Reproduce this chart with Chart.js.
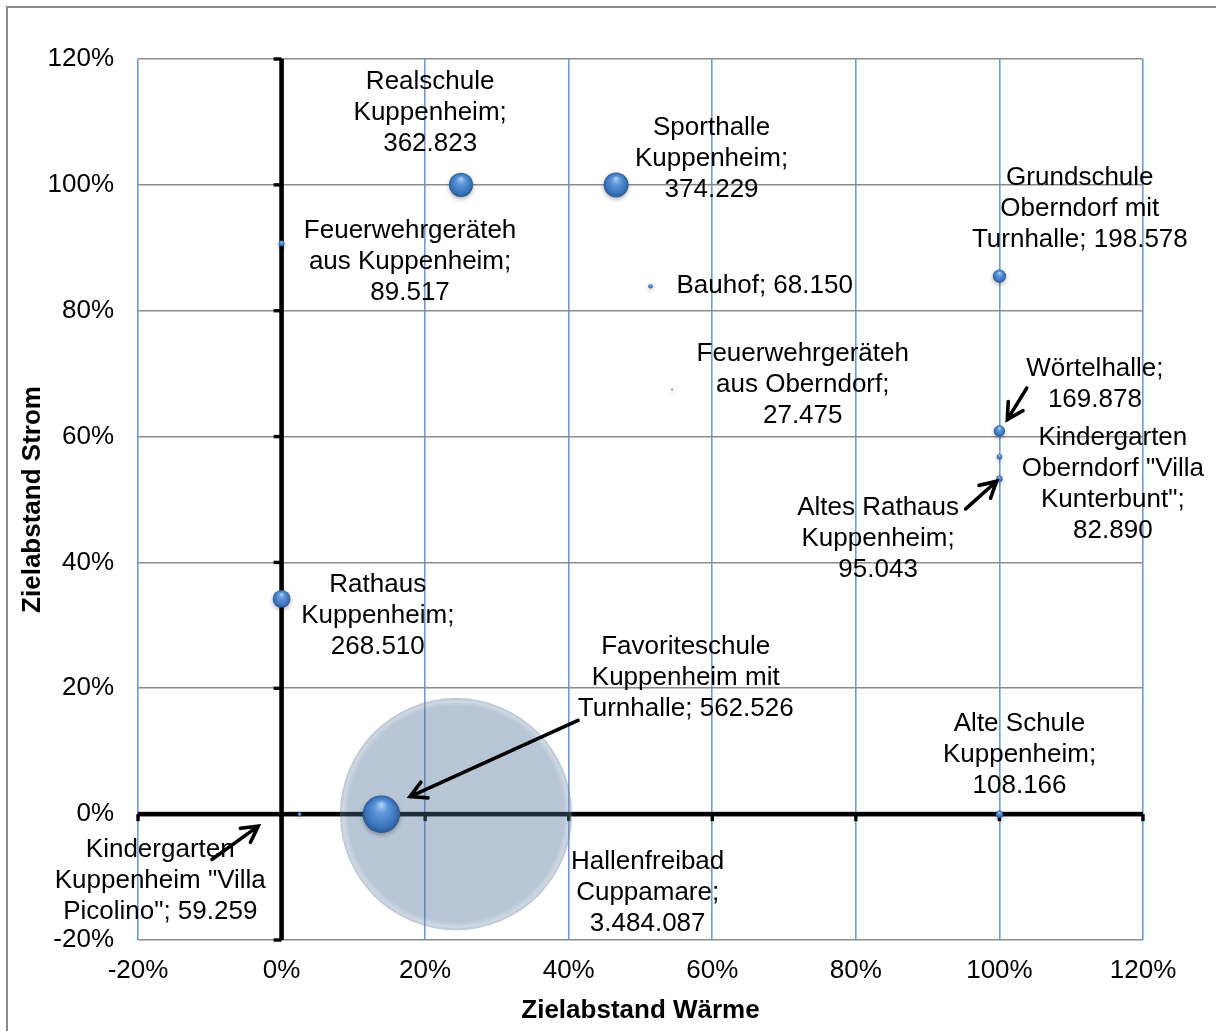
<!DOCTYPE html>
<html>
<head>
<meta charset="utf-8">
<script src="https://cdn.jsdelivr.net/npm/chart.js@4.4.1/dist/chart.umd.min.js"></script>
<style>
  html, body { margin: 0; padding: 0; background: #fff; }
  #wrap { width: 1216px; height: 1031px; }
</style>
</head>
<body>
<div id="wrap"><canvas id="bubbleChart" width="1216" height="1031"></canvas></div>
<script>
// Gebäude (Zeilenumbrüche wie im Original-Diagramm)
const namen = [
	"Realschule\nKuppenheim",
	"Sporthalle\nKuppenheim",
	"Feuerwehrgeräteh\naus Kuppenheim",
	"Bauhof",
	"Grundschule\nOberndorf mit\nTurnhalle",
	"Feuerwehrgeräteh\naus Oberndorf",
	"Wörtelhalle",
	"Kindergarten\nOberndorf \"Villa\nKunterbunt\"",
	"Altes Rathaus\nKuppenheim",
	"Rathaus\nKuppenheim",
	"Favoriteschule\nKuppenheim mit\nTurnhalle",
	"Hallenfreibad\nCuppamare",
	"Alte Schule\nKuppenheim",
	"Kindergarten\nKuppenheim \"Villa\nPicolino\"",
];
// zwischen Name und Wert: neue Zeile oder Leerzeichen
const trenner = ["\n", "\n", "\n", " ", " ", "\n", "\n", "\n", "\n", "\n", " ", "\n", "\n", " "];

// Zielabstand Wärme (x), Zielabstand Strom (y), Verbrauch (Blasengröße)
const waermeAbstand = [0.25, 0.466, 0.0, 0.514, 1.0, 0.544, 1.0, 1.0, 1.0, 0.0, 0.139, 0.243, 1.0, 0.025];
const stromAbstand = [1.0, 1.0, 0.907, 0.839, 0.855, 0.675, 0.609, 0.568, 0.533, 0.342, 0.0, 0.0, 0.0, 0.0];
const verbrauch = [362823, 374229, 89517, 68150, 198578, 27475, 169878, 82890, 95043, 268510, 562526, 3484087, 108166, 59259];

// Achsen
const achsenWerte = [-0.2, 0, 0.2, 0.4, 0.6, 0.8, 1.0, 1.2];
const achsenLabels = ["-20%", "0%", "20%", "40%", "60%", "80%", "100%", "120%"];

// Position der Beschriftungen (Mitte des Textblocks, in Achseneinheiten)
const labelPos = [
	[0.207, 1.114], [0.599, 1.041], [0.179, 0.877], [0.673, 0.839], [1.112, 0.962],
	[0.726, 0.682], [1.133, 0.683], [1.158, 0.524], [0.831, 0.437], [0.134, 0.315],
	[0.563, 0.216], [0.510, -0.125], [1.028, 0.094], [-0.169, -0.106],
];
// Pfeile von der Beschriftung zur Blase (Achseneinheiten)
const pfeile = [
	[[1.038, 0.677], [1.011, 0.627]],
	[[0.953, 0.485], [0.996, 0.529]],
	[[0.413, 0.149], [0.179, 0.028]],
	[[-0.097, -0.072], [-0.0325, -0.019]],
];

const pixelProEinheit = 3.33e-5; // Radius proportional zum Verbrauch
const grenzeGross = 60; // ab diesem Radius: durchsichtige Blase

const fontFamily = '"Liberation Sans", Arial, sans-serif';

function formatZahl(v) {
	return String(v).replace(/\B(?=(\d{3})+(?!\d))/g, ".");
}

const punkte = verbrauch.map((v, i) => ({ x: waermeAbstand[i], y: stromAbstand[i], r: v * pixelProEinheit }));
const kleinePunkte = punkte.filter((p) => p.r <= grenzeGross);
const grossePunkte = punkte.filter((p) => p.r > grenzeGross);

function kugelFarbe(context) {
	const chart = context.chart;
	const p = context.raw;
	if (!p || !chart.chartArea) return "#4a7ebb";
	const cx = chart.scales.x.getPixelForValue(p.x);
	const cy = chart.scales.y.getPixelForValue(p.y);
	const r = Math.max(p.r, 0.5);
	const g = chart.ctx.createRadialGradient(cx, cy - r * 0.55, 0, cx, cy, r);
	g.addColorStop(0, "#b5d2f3");
	g.addColorStop(0.35, "#5d97da");
	g.addColorStop(0.8, "#3b74ba");
	g.addColorStop(1, "#2a5990");
	return g;
}

function glasFarbe(context) {
	const chart = context.chart;
	const p = context.raw;
	if (!p || !chart.chartArea) return "rgba(76,112,152,0.4)";
	const cx = chart.scales.x.getPixelForValue(p.x);
	const cy = chart.scales.y.getPixelForValue(p.y);
	const g = chart.ctx.createRadialGradient(cx, cy - p.r * 0.05, 0, cx, cy, p.r);
	g.addColorStop(0, "rgba(76,112,152,0.40)");
	g.addColorStop(0.93, "rgba(76,112,152,0.40)");
	g.addColorStop(0.975, "rgba(120,146,176,0.36)");
	g.addColorStop(1, "rgba(95,122,155,0.45)");
	return g;
}

const hintergrund = {
	id: "hintergrund",
	beforeDraw(chart) {
		const { ctx } = chart;
		ctx.save();
		ctx.fillStyle = "#fff";
		ctx.fillRect(0, 0, chart.width, chart.height);
		ctx.strokeStyle = "#8a8a8a";
		ctx.lineWidth = 2;
		ctx.strokeRect(7, 7, chart.width + 20, chart.height + 20);
		ctx.restore();
	},
};

// dicke Achsen durch den Nullpunkt
const nullAchsen = {
	id: "nullAchsen",
	beforeDatasetsDraw(chart) {
		const { ctx, chartArea, scales: { x, y } } = chart;
		const x0 = x.getPixelForValue(0);
		const y0 = y.getPixelForValue(0);
		ctx.save();
		ctx.fillStyle = "#000";
		ctx.fillRect(x0 - 2.3, chartArea.top, 4.6, chartArea.bottom - chartArea.top);
		ctx.fillRect(chartArea.left, y0 - 2.3, chartArea.right - chartArea.left, 4.6);
		achsenWerte.forEach((v) => {
			const py = y.getPixelForValue(v);
			ctx.fillRect(x0 - 8, py - 1.7, 8, 3.4);
			const px = x.getPixelForValue(v);
			ctx.fillRect(px - 1.7, y0, 3.4, 7);
		});
		ctx.restore();
	},
	// Schatten nur für die kleinen Kugeln
	beforeDatasetDraw(chart, args) {
		const { ctx } = chart;
		ctx.save();
		if (args.index === 0) {
			ctx.shadowColor = "rgba(0,0,0,0.3)";
			ctx.shadowBlur = 4;
			ctx.shadowOffsetY = 2;
		}
	},
	afterDatasetDraw(chart) {
		chart.ctx.restore();
	},
};

const beschriftung = {
	id: "beschriftung",
	afterDatasetsDraw(chart) {
		const { ctx, scales: { x, y } } = chart;
		ctx.save();
		ctx.font = "26px " + fontFamily;
		ctx.fillStyle = "#000";
		ctx.textAlign = "center";
		ctx.textBaseline = "middle";
		namen.forEach((name, i) => {
			const zeilen = (name + ";" + trenner[i] + formatZahl(verbrauch[i])).split("\n");
			const cx = x.getPixelForValue(labelPos[i][0]);
			const cy = y.getPixelForValue(labelPos[i][1]);
			zeilen.forEach((z, j) => {
				ctx.fillText(z, cx, cy + (j - (zeilen.length - 1) / 2) * 31);
			});
		});

		ctx.strokeStyle = "#000";
		ctx.lineWidth = 3.6;
		ctx.lineCap = "round";
		pfeile.forEach(([von, nach]) => {
			const x1 = x.getPixelForValue(von[0]), y1 = y.getPixelForValue(von[1]);
			const x2 = x.getPixelForValue(nach[0]), y2 = y.getPixelForValue(nach[1]);
			const w = Math.atan2(y2 - y1, x2 - x1);
			const len = 18;
			ctx.beginPath();
			ctx.moveTo(x1, y1);
			ctx.lineTo(x2, y2);
			ctx.moveTo(x2 - len * Math.cos(w - 0.5), y2 - len * Math.sin(w - 0.5));
			ctx.lineTo(x2, y2);
			ctx.lineTo(x2 - len * Math.cos(w + 0.5), y2 - len * Math.sin(w + 0.5));
			ctx.stroke();
		});
		ctx.restore();
	},
};

const achse = (gridFarbe, titel, titelPadding, tickPadding, breite) => ({
	type: "linear",
	min: -0.2,
	max: 1.2,
	afterBuildTicks: (scale) => {
		scale.ticks = achsenWerte.map((v) => ({ value: v }));
	},
	afterFit: breite,
	ticks: {
		callback: (value, index) => achsenLabels[index],
		color: "#000",
		font: { family: fontFamily, size: 26 },
		padding: tickPadding,
	},
	grid: { color: gridFarbe, lineWidth: 1.6, drawTicks: false },
	border: { display: false },
	title: {
		display: true,
		text: titel,
		color: "#000",
		font: { family: fontFamily, size: 26, weight: "bold" },
		padding: titelPadding,
	},
});

new Chart(document.getElementById("bubbleChart"), {
	type: "bubble",
	data: {
		datasets: [
			{
				data: kleinePunkte,
				backgroundColor: kugelFarbe,
				borderWidth: 0,
				clip: false,
			},
			{
				data: grossePunkte,
				backgroundColor: glasFarbe,
				borderWidth: 0,
				clip: false,
			},
		],
	},
	options: {
		responsive: false,
		animation: false,
		events: [],
		layout: { autoPadding: false, padding: { top: 59, right: 73, left: 0, bottom: 0 } },
		plugins: {
			legend: { display: false },
			tooltip: { enabled: false },
		},
		scales: {
			x: achse("#6c9bd8", "Zielabstand Wärme", { top: 0, bottom: 5 }, 15, (s) => { s.height = 91; }),
			y: achse("#8c8c8c", "Zielabstand Strom", { top: 17, bottom: 0 }, 24, (s) => { s.width = 138; }),
		},
	},
	plugins: [hintergrund, nullAchsen, beschriftung],
});
</script>
</body>
</html>
